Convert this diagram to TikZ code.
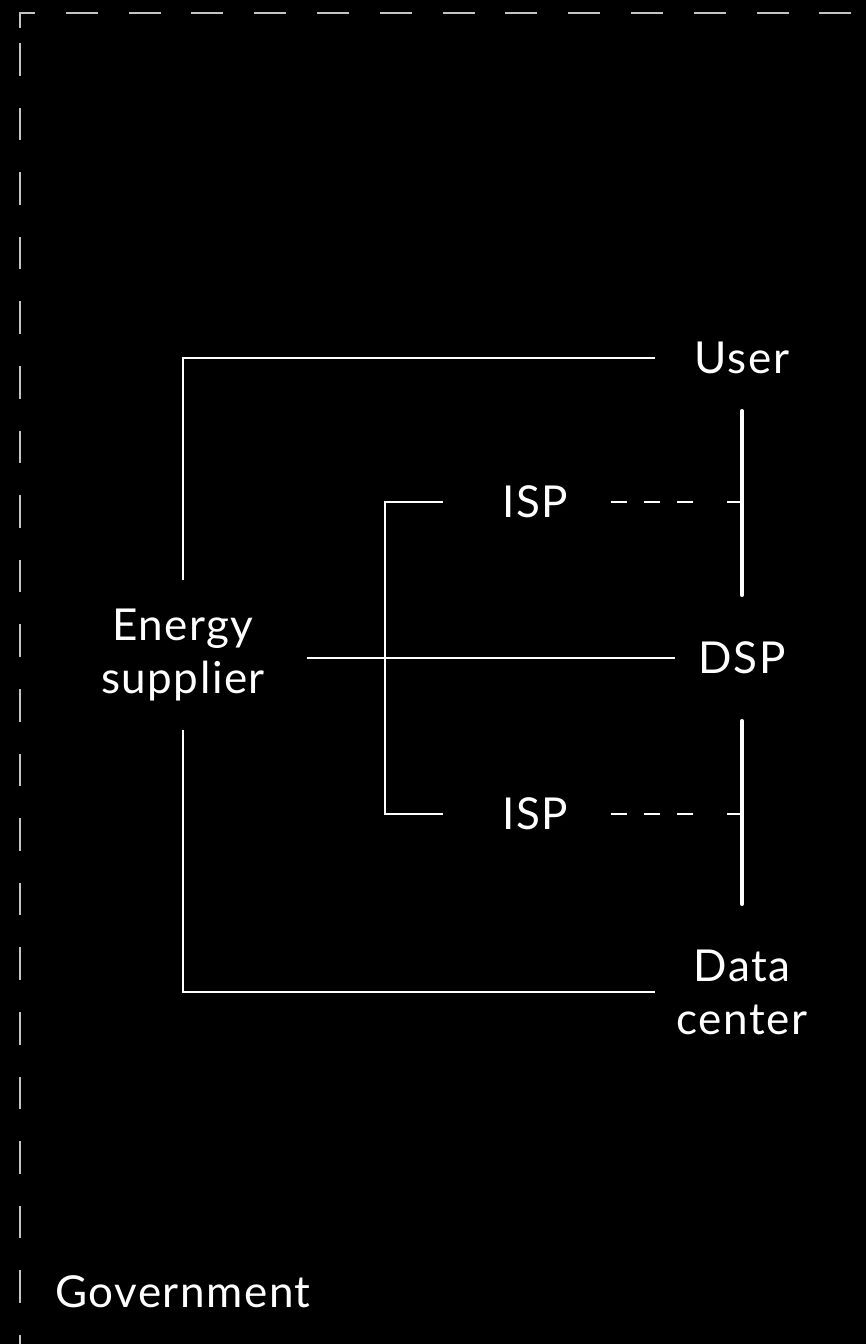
\documentclass[tikz,border=0pt]{standalone}
\usepackage{fontspec}
\setmainfont{Lato}[LetterSpace=3.5]
\usetikzlibrary{positioning}
\definecolor{framegray}{HTML}{C4C4C4}
\newcommand{\partyfont}{\fontsize{44}{53}\selectfont}

\begin{document}
\begin{tikzpicture}[x=1pt,y=-1pt,
    party/.style={text=white, font=\partyfont, align=center, inner sep=0pt},
    link/.style={draw=white, line width=2pt},
    bar/.style={draw=white, line width=4.5pt, line cap=round},
    dashlink/.style={draw=white, line width=2.5pt, dash pattern=on 16pt off 17pt on 16pt off 17pt on 16pt off 34pt on 14pt},
    frame/.style={draw=framegray, line width=1.3pt}
  ]
  \useasboundingbox (0,0) rectangle (866,1344);
  \fill[black] (0,0) rectangle (866,1344);
  \draw[frame, dash pattern=on 32pt off 30.8pt, dash phase=48.2pt] (866,13) -- (20,13) -- (20,28);
  \draw[frame, dash pattern=on 32.5pt off 32.1pt, dash phase=34.6pt] (20,13) -- (20,1344);
  \node[party, minimum width=248pt, minimum height=150pt] (energy) at (183,655) {Energy\\supplier};
  \node[party, minimum width=174pt, minimum height=106pt] (user) at (742,358) {User};
  \node[party, minimum width=184pt] (ispA) at (535,502) {ISP};
  \node[party, minimum width=134pt, minimum height=126pt] (dsp) at (742,658) {DSP};
  \node[party, minimum width=184pt] (ispB) at (535,814) {ISP};
  \node[party, minimum width=174pt, minimum height=176pt] (data) at (742,992) {Data\\center};
  \node[party, anchor=base west] (gov) at (55,1307) {Government};
  \draw[link] (energy.north) |- (user.west);
  \draw[link] (energy.south) |- (data.west);
  \draw[link] (dsp.west -| energy.east) -- (dsp.west);
  \draw[link] (ispA.west) -- ++(-58,0) |- (ispB.west);
  \draw[dashlink] ([xshift=-16pt]ispA.east) -- (ispA.east -| user.south);
  \draw[dashlink] ([xshift=-16pt]ispB.east) -- (ispB.east -| user.south);
  \draw[bar] (user.south) -- (dsp.north);
  \draw[bar] (dsp.south) -- (data.north);
\end{tikzpicture}
\end{document}
